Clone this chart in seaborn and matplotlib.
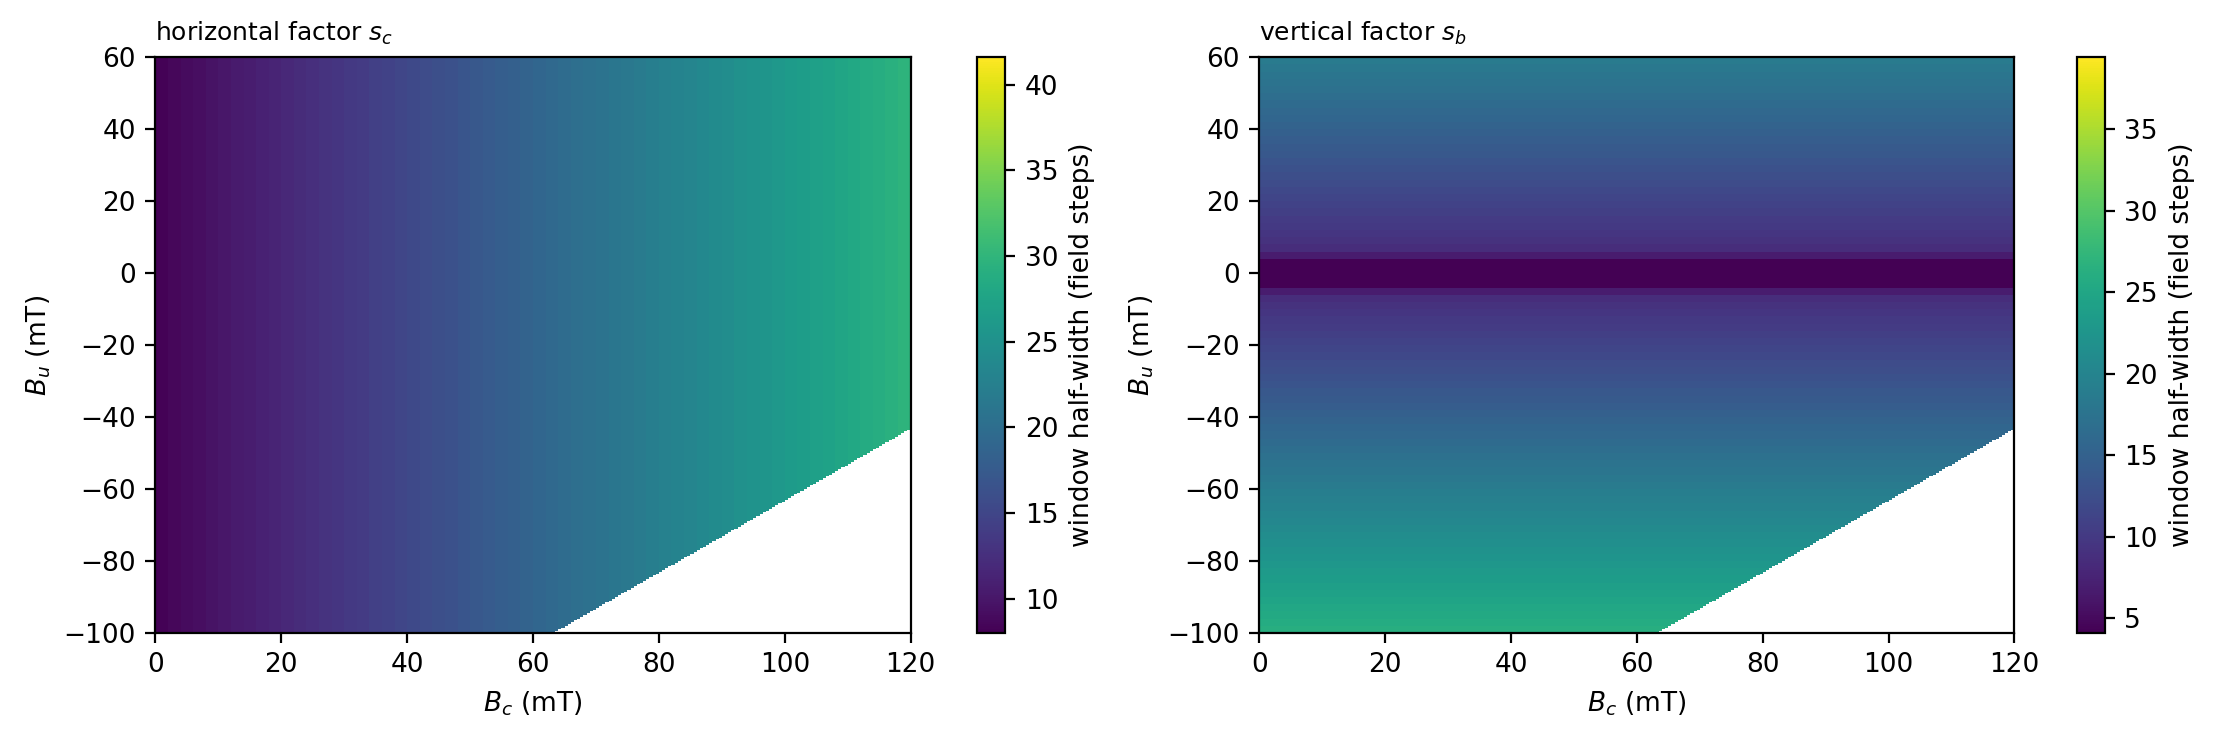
import numpy as np
import pandas as pd
import matplotlib
matplotlib.use("Agg")
import matplotlib.pyplot as plt
import seaborn as sns

plt.rcParams["font.family"] = ["DejaVu Sans"]
plt.rcParams["font.size"] = 9.5


# Values

# horizontal factor s_c, one value per 2 mT strip of B_c (strip centres 1, 3, ..., 119)
bc_step = 2
sc_values = [8.2, 8.6, 9.0, 9.3, 9.6, 10.0, 10.4, 10.7, 11.1, 11.4,
             11.8, 12.1, 12.5, 12.9, 13.2, 13.6, 13.9, 14.3, 14.6, 15.0,
             15.4, 15.7, 16.1, 16.4, 16.8, 17.1, 17.5, 17.9, 18.2, 18.6,
             19.0, 19.3, 19.7, 20.1, 20.4, 20.8, 21.2, 21.5, 21.9, 22.3,
             22.6, 23.0, 23.3, 23.7, 24.1, 24.4, 24.8, 25.2, 25.5, 25.9,
             26.3, 26.6, 27.0, 27.4, 27.8, 28.1, 28.5, 28.9, 29.3, 29.7]

# vertical factor s_b, one value per 2 mT strip of B_u, from the top (60) down to -100
bu_step = 2
sb_values = [18.6, 18.2, 17.8, 17.5, 17.1, 16.7, 16.3, 15.9, 15.6, 15.2,
             14.8, 14.4, 14.0, 13.7, 13.3, 12.9, 12.5, 12.1, 11.8, 11.4,
             11.0, 10.6, 10.2, 9.9, 9.5, 9.1, 8.6, 6.8, 4.1, 4.1,
             4.1, 4.1, 6.8, 8.6, 9.1, 9.5, 9.9, 10.2, 10.6, 11.0,
             11.4, 11.8, 12.1, 12.5, 12.9, 13.3, 13.7, 14.0, 14.4, 14.8,
             15.2, 15.6, 15.9, 16.3, 16.7, 17.1, 17.5, 17.8, 18.2, 18.6,
             19.0, 19.4, 19.7, 20.1, 20.5, 20.9, 21.3, 21.6, 22.0, 22.4,
             22.8, 23.2, 23.5, 23.9, 24.3, 24.7, 25.1, 25.4, 25.8, 26.2]

bc_lim = (0, 120)
bu_lim = (-100, 60)
ha_min = -163          # no data where B_u < B_c + ha_min

sc_limits = (8.0, 41.6)
sb_limits = (4.1, 39.4)

x_ticks = [0, 20, 40, 60, 80, 100, 120]
y_ticks = [60, 40, 20, 0, -20, -40, -60, -80, -100]


# Split into 0.5 mT cells (each read value covers its whole strip)

cell = 0.5
per_x = int(bc_step / cell)
per_y = int(bu_step / cell)

bc = bc_lim[0] + (np.arange(int((bc_lim[1] - bc_lim[0]) / cell)) + 0.5) * cell
bu = bu_lim[1] - (np.arange(int((bu_lim[1] - bu_lim[0]) / cell)) + 0.5) * cell

sc_cols = np.repeat(sc_values, per_x)
sb_rows = np.repeat(sb_values, per_y)

sc_grid = pd.DataFrame(np.tile(sc_cols, (len(bu), 1)), index=bu, columns=bc)
sb_grid = pd.DataFrame(np.tile(sb_rows[:, None], (1, len(bc))), index=bu, columns=bc)

mask = bu[:, None] < bc[None, :] + ha_min


# Figure

fig = plt.figure(figsize=(2221 / 200, 743 / 200), dpi=200)

panels = [
    (sc_grid, sc_limits, "horizontal factor $s_c$", [0.070, 0.148, 0.340, 0.775], [0.440, 0.148, 0.0126, 0.775]),
    (sb_grid, sb_limits, "vertical factor $s_b$", [0.567, 0.148, 0.340, 0.775], [0.935, 0.148, 0.0126, 0.775]),
]

for grid, lims, title, ax_pos, cax_pos in panels:
    ax = fig.add_axes(ax_pos)
    cax = fig.add_axes(cax_pos)
    sns.heatmap(grid, ax=ax, cbar_ax=cax, cmap="viridis",
                vmin=lims[0], vmax=lims[1], mask=mask,
                xticklabels=False, yticklabels=False,
                cbar_kws={"label": "window half-width (field steps)"})

    ax.set_xticks([(t - bc_lim[0]) / cell for t in x_ticks])
    ax.set_xticklabels([str(t) for t in x_ticks])
    ax.set_yticks([(bu_lim[1] - t) / cell for t in y_ticks])
    ax.set_yticklabels([str(t).replace("-", "\u2212") for t in y_ticks], rotation=0)
    ax.tick_params(length=3.5, width=0.8, color="black")

    for sp in ax.spines.values():
        sp.set_visible(True)
        sp.set_linewidth(0.8)
        sp.set_color("black")

    cbar = ax.collections[0].colorbar
    cbar.outline.set_linewidth(0.8)
    cbar.outline.set_edgecolor("black")

    ax.set_xlabel("$B_c$ (mT)")
    ax.set_ylabel("$B_u$ (mT)")
    ax.set_title(title, loc="left", fontsize=9)

fig.savefig("out.png", dpi=200)
